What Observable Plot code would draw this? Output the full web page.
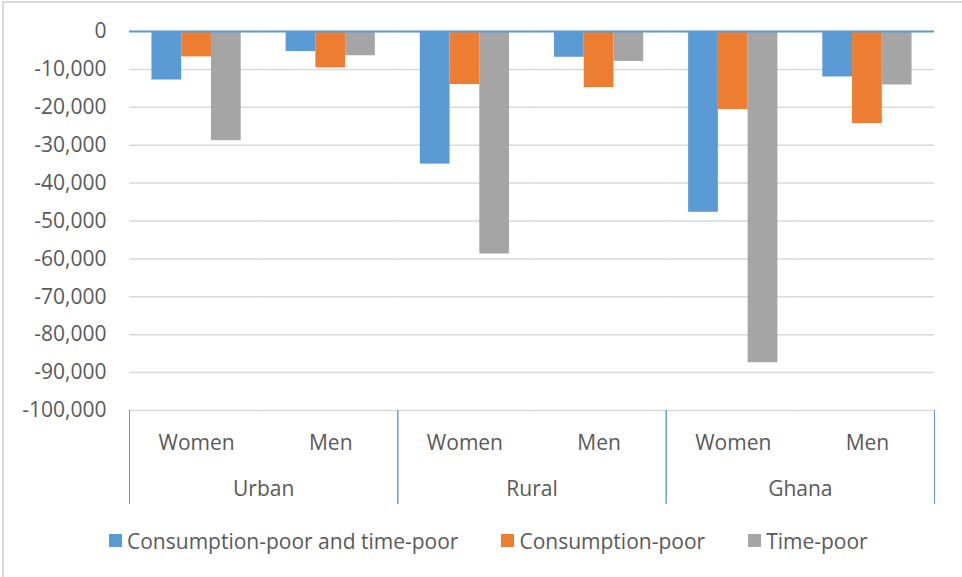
<!DOCTYPE html>
<html><head><meta charset="utf-8">
<script src="https://cdn.jsdelivr.net/npm/d3@7"></script>
<script src="https://cdn.jsdelivr.net/npm/@observablehq/plot@0.6"></script>
<style>
body{margin:0;background:#fff;}
#chart{position:relative;width:962px;height:577px;overflow:hidden;font-family:"Open Sans";background:#fff;}
#border{position:absolute;left:2px;top:1px;width:970px;height:590px;border-top:2px solid #D9D9D9;border-left:2px solid #D9D9D9;}
#a,#b,#leg{position:absolute;left:0;}
#a{top:0}
#b{top:410px}
#leg{left:109px;top:524px}
.lg-swatches{font-family:"Open Sans" !important;font-size:21px !important;color:#595959 !important;margin:0 !important;min-height:33px !important;}
.lg-swatch{margin-right:43px !important;}
.lg-swatch > svg{margin-right:5px !important;}
</style>
</head><body>
<div id="chart"><div id="border"></div><div id="a"></div><div id="b"></div><div id="leg"></div></div>
<script>
const groups = ["Urban", "Rural", "Ghana"];
const subs = ["Women", "Men"];
const series = ["Consumption-poor and time-poor", "Consumption-poor", "Time-poor"];
// order: Urban Women, Urban Men, Rural Women, Rural Men, Ghana Women, Ghana Men
const bothPoor = [-12800, -5300, -35000, -6800, -47700, -12000];
const consPoor = [-6700, -9600, -14000, -14800, -20600, -24300];
const timePoor = [-28800, -6400, -58700, -7900, -87400, -14100];
const yTicks = [0, -10000, -20000, -30000, -40000, -50000, -60000, -70000, -80000, -90000, -100000];
const colors = ["#5B9BD5", "#ED7D31", "#A5A5A5"];

const seriesValues = [bothPoor, consPoor, timePoor];
const cells = groups.flatMap(g => subs.map(s => ({group: g, sub: s, key: g + " " + s})));
const keys = cells.map(c => c.key);
const rows = cells.flatMap((c, i) => series.map((name, j) => ({...c, series: name, value: seriesValues[j][i]})));

const fmt = d => d.toLocaleString("en-US");
const baseStyle = {fontFamily: "Open Sans", fontSize: "21px", color: "#595959", background: "transparent", overflow: "visible"};

const plotA = Plot.plot({
  width: 962, height: 412,
  marginTop: 31, marginBottom: 2, marginLeft: 129, marginRight: 28,
  style: baseStyle,
  fx: {domain: keys, padding: 0, round: false, axis: null, label: null},
  x: {domain: series, paddingInner: 0, paddingOuter: 0.755, round: false, axis: null},
  y: {domain: [-100000, 0], axis: null},
  color: {domain: series, range: colors},
  marks: [
    Plot.gridY(yTicks, {stroke: "#D9D9D9", strokeOpacity: 1, strokeWidth: 1.5}),
    Plot.barY(rows, {fx: "key", x: "series", y1: 0, y2: "value", fill: "series"}),
    Plot.ruleY([0], {stroke: "#5B9BD5", strokeWidth: 2}),
    Plot.axisY(yTicks, {tickSize: 0, tickPadding: 23, tickFormat: fmt, fill: "#595959", fontSize: 21, label: null})
  ]
});
document.getElementById("a").appendChild(plotA);

const plotB = Plot.plot({
  width: 962, height: 93,
  marginTop: 0, marginBottom: 0, marginLeft: 129, marginRight: 28,
  style: baseStyle,
  fx: {domain: groups, padding: 0, round: false, axis: null, label: null},
  x: {type: "band", domain: subs, padding: 0, round: false, axis: null},
  marks: [
    Plot.frame({anchor: "left", stroke: "#5B9BD5", strokeWidth: 1}),
    Plot.frame({anchor: "right", stroke: "#5B9BD5", strokeWidth: 1}),
    Plot.text(cells, {fx: "group", x: "sub", text: "sub", frameAnchor: "top", lineAnchor: "bottom", dy: 39, fill: "#595959", fontSize: 21}),
    Plot.text(groups, {fx: d => d, text: d => d, frameAnchor: "bottom", lineAnchor: "bottom", dy: -8, fill: "#595959", fontSize: 21})
  ]
});
document.getElementById("b").appendChild(plotB);

const leg = Plot.legend({
  legend: "swatches",
  color: {type: "ordinal", domain: series, range: colors},
  swatchWidth: 13, swatchHeight: 13,
  className: "lg"
});
document.getElementById("leg").appendChild(leg);
</script>
</body></html>
